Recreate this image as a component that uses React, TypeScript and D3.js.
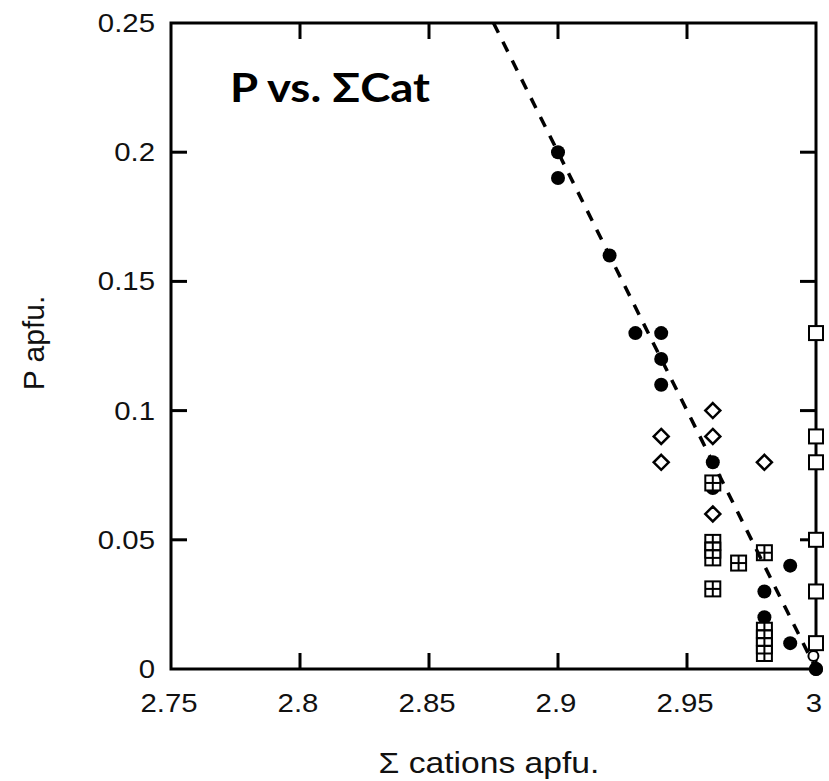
import React from "react";
import * as d3 from "d3";

const W = 829;
const H = 781;

// ---- data ----
const xTicks = [2.75, 2.8, 2.85, 2.9, 2.95, 3];
const xTickLabels = ["2.75", "2.8", "2.85", "2.9", "2.95", "3"];
const yTicks = [0, 0.05, 0.1, 0.15, 0.2, 0.25];
const yTickLabels = ["0", "0.05", "0.1", "0.15", "0.2", "0.25"];

const circleX = [2.90, 2.90, 2.92, 2.93, 2.94, 2.94, 2.94, 2.96, 2.96, 2.98, 2.98, 2.99, 2.99, 3.00];
const circleY = [0.20, 0.19, 0.16, 0.13, 0.13, 0.12, 0.11, 0.08, 0.07, 0.03, 0.02, 0.04, 0.01, 0.00];

const diamondX = [2.94, 2.94, 2.96, 2.96, 2.96, 2.98];
const diamondY = [0.09, 0.08, 0.10, 0.09, 0.06, 0.08];

const gridX = [2.96, 2.96, 2.96, 2.96, 2.96, 2.97, 2.98, 2.98, 2.98, 2.98, 2.98];
const gridY = [0.072, 0.049, 0.046, 0.043, 0.031, 0.041, 0.045, 0.015, 0.012, 0.009, 0.006];

const openSquareX = [3, 3, 3, 3, 3, 3];
const openSquareY = [0.13, 0.09, 0.08, 0.05, 0.03, 0.01];

const openCircleX = [2.999];
const openCircleY = [0.005];

const trendX = [2.875, 3.0];
const trendY = [0.25, 0.0];

const titleText = "P vs. \u03A3Cat";
const xLabel = "\u03A3 cations apfu.";
const yLabel = "P apfu.";

// ---- layout ----
const left = 171;
const right = 816;
const top = 23;
const bottom = 669;

export default function App() {
  const x = d3.scaleLinear().domain([2.75, 3]).range([left, right]);
  const y = d3.scaleLinear().domain([0, 0.25]).range([bottom, top]);
  const line = d3
    .line<number>()
    .x((_, i) => x(trendX[i]))
    .y((_, i) => y(trendY[i]));

  const tickLen = 16;
  const tickFont = "'Liberation Sans', Arial, Helvetica, sans-serif";
  const gs = 15;

  return (
    <svg
      width={W}
      height={H}
      style={{ position: "absolute", left: 0, top: 0, background: "#fff" }}
    >
      <rect x={0} y={0} width={W} height={H} fill="#fff" />
      {/* ticks */}
      {xTicks.slice(1, -1).map((t, i) => (
        <g key={"xt" + i} stroke="#000" strokeWidth={3}>
          <line x1={x(t)} x2={x(t)} y1={bottom} y2={bottom - tickLen} />
          <line x1={x(t)} x2={x(t)} y1={top} y2={top + tickLen} />
        </g>
      ))}
      {yTicks.slice(1, -1).map((t, i) => (
        <g key={"yt" + i} stroke="#000" strokeWidth={3}>
          <line x1={left} x2={left + tickLen} y1={y(t)} y2={y(t)} />
          <line x1={right} x2={right - tickLen} y1={y(t)} y2={y(t)} />
        </g>
      ))}
      {/* frame */}
      <rect
        x={left}
        y={top}
        width={right - left}
        height={bottom - top}
        fill="none"
        stroke="#000"
        strokeWidth={3}
      />
      {/* tick labels */}
      {xTicks.map((t, i) => (
        <text
          key={"xl" + i}
          transform={`translate(${x(t) - 2},712) scale(1.13,1)`}
          textAnchor="middle"
          fontFamily={tickFont}
          fontSize={26}
          fill="#111"
        >
          {xTickLabels[i]}
        </text>
      ))}
      {yTicks.map((t, i) => (
        <text
          key={"yl" + i}
          transform={`translate(155,${y(t) + 9}) scale(1.13,1)`}
          textAnchor="end"
          fontFamily={tickFont}
          fontSize={26}
          fill="#111"
        >
          {yTickLabels[i]}
        </text>
      ))}
      {/* axis labels */}
      <text
        transform={`translate(489,773) scale(1.16,1)`}
        textAnchor="middle"
        fontFamily={tickFont}
        fontSize={29}
        fill="#111"
      >
        {xLabel}
      </text>
      <text
        transform={`translate(44,343) rotate(-90)`}
        textAnchor="middle"
        fontFamily={tickFont}
        fontSize={30}
        fill="#111"
      >
        {yLabel}
      </text>
      {/* title */}
      <text
        x={230}
        y={102}
        fontFamily="Lato, 'Open Sans', sans-serif"
        fontWeight="bold"
        fontSize={40}
        textLength={200}
        lengthAdjust="spacingAndGlyphs"
        fill="#000"
      >
        {titleText}
      </text>
      {/* open circles */}
      {openCircleX.map((v, i) => (
        <circle
          key={"oc" + i}
          cx={x(v)}
          cy={y(openCircleY[i])}
          r={5}
          fill="#fff"
          stroke="#000"
          strokeWidth={2}
        />
      ))}
      {/* filled circles */}
      {circleX.map((v, i) => (
        <circle key={"c" + i} cx={x(v)} cy={y(circleY[i])} r={7} fill="#000" />
      ))}
      {/* diamonds */}
      {diamondX.map((v, i) => {
        const cx = x(v);
        const cy = y(diamondY[i]);
        const s = 7.5;
        return (
          <path
            key={"d" + i}
            d={`M${cx},${cy - s}L${cx + s},${cy}L${cx},${cy + s}L${cx - s},${cy}Z`}
            fill="#fff"
            stroke="#000"
            strokeWidth={2.5}
          />
        );
      })}
      {/* grid squares */}
      {gridX.map((v, i) => {
        const cx = x(v);
        const cy = y(gridY[i]);
        const h = gs / 2;
        return (
          <g key={"g" + i} stroke="#000" strokeWidth={2}>
            <rect x={cx - h} y={cy - h} width={gs} height={gs} fill="#fff" />
            <line x1={cx} x2={cx} y1={cy - h} y2={cy + h} />
            <line x1={cx - h} x2={cx + h} y1={cy} y2={cy} />
          </g>
        );
      })}
      {/* dashed trend line */}
      <path
        d={line(trendX) || ""}
        fill="none"
        stroke="#000"
        strokeWidth={3.5}
        strokeDasharray="11 10"
      />
      {/* open squares */}
      {openSquareX.map((v, i) => (
        <rect
          key={"os" + i}
          x={x(v) - 7}
          y={y(openSquareY[i]) - 7}
          width={14}
          height={14}
          fill="#fff"
          stroke="#000"
          strokeWidth={2}
        />
      ))}
      <circle cx={x(3)} cy={y(0)} r={7} fill="#000" />
    </svg>
  );
}
